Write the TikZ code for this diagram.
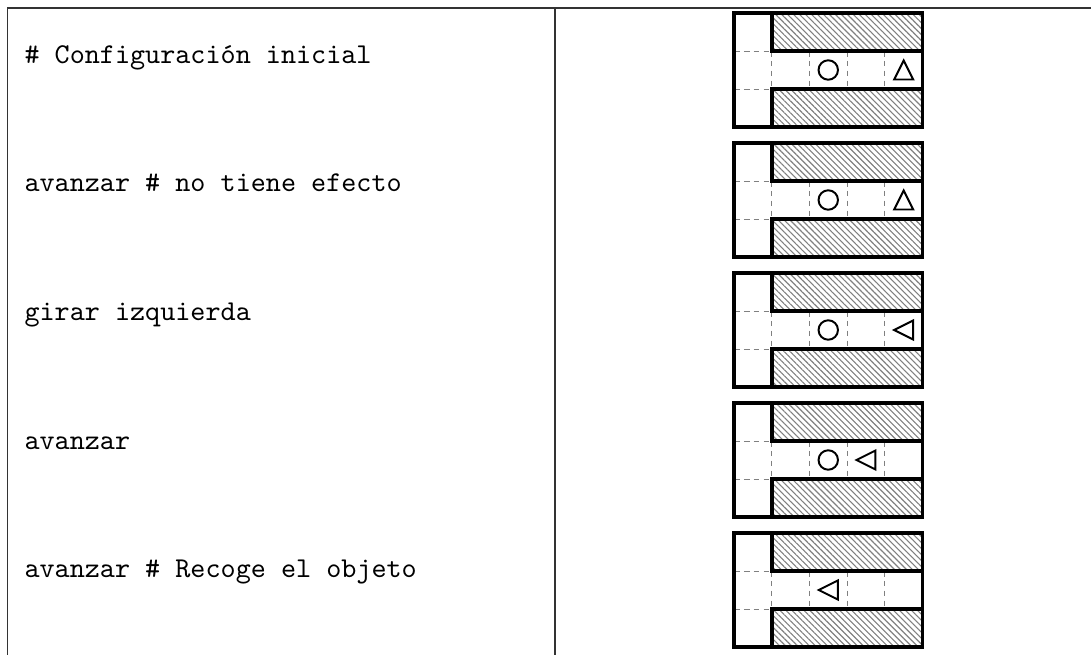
\documentclass[tikz,border=0pt]{standalone}
\usetikzlibrary{patterns.meta}

\begin{document}
\begin{tikzpicture}[x=0.355pt, y=-0.355pt,
    rule/.style={black!80, line width=0.5pt},
    wall/.style={line width=1.4pt, line join=miter},
    celda/.style={gray, dashed, line width=0.3pt, dash pattern=on 2pt off 1.5pt},
    rayado/.style={pattern={Lines[angle=-45, distance=1.5pt, line width=0.4pt]}, pattern color=gray},
    orden/.style={anchor=base west, font=\fontsize{10.2}{12}\ttfamily, inner sep=0pt},
    objeto/.style={line width=0.7pt},
]

\useasboundingbox (0,0) rectangle (1091,655);

% tabla
\draw[rule] (7,8) -- (1091,8);
\draw[rule] (7.5,8) -- (7.5,655);
\draw[rule] (555,8) -- (555,655);

\node[orden] (t1) at (24,63.5) {\# Configuración inicial};
\node[orden] (t2) at (24,192) {avanzar \# no tiene efecto};
\node[orden] (t3) at (24,320.5) {girar izquierda};
\node[orden] (t4) at (24,449) {avanzar};
\node[orden] (t5) at (24,577.5) {avanzar \# Recoge el objeto};

% tableros: fila / columna del objeto / columna del robot / giro
\foreach \i/\obj/\rob/\giro in {0/2/4/0, 1/2/4/0, 2/2/4/90, 3/2/3/90, 4/-1/2/90}{
  \begin{scope}[shift={(0,\i*130)}]
    \fill[rayado] (771.7,13) rectangle (922.5,51);
    \fill[rayado] (771.7,89) rectangle (922.5,127);
    \draw[celda] (734,51) -- (771.7,51) (734,89) -- (771.7,89);
    \foreach \x in {771.7,809.4,847.1,884.8}
      \draw[celda] (\x,51) -- (\x,89);
    \draw[wall] (734,13) rectangle (922.5,127);
    \draw[wall] (771.7,13) -- (771.7,51) -- (922.5,51);
    \draw[wall] (771.7,127) -- (771.7,89) -- (922.5,89);
    \ifnum\obj>-1
      \draw[objeto] ({734+37.7*(\obj+0.5)},70) circle[radius=3.45pt];
    \fi
    \draw[objeto, line join=miter, shift={({734+37.7*(\rob+0.5)},70)}, rotate=\giro]
      (0,-9.5) -- (9.5,9.5) -- (-9.5,9.5) -- cycle;
  \end{scope}
}

\end{tikzpicture}
\end{document}
